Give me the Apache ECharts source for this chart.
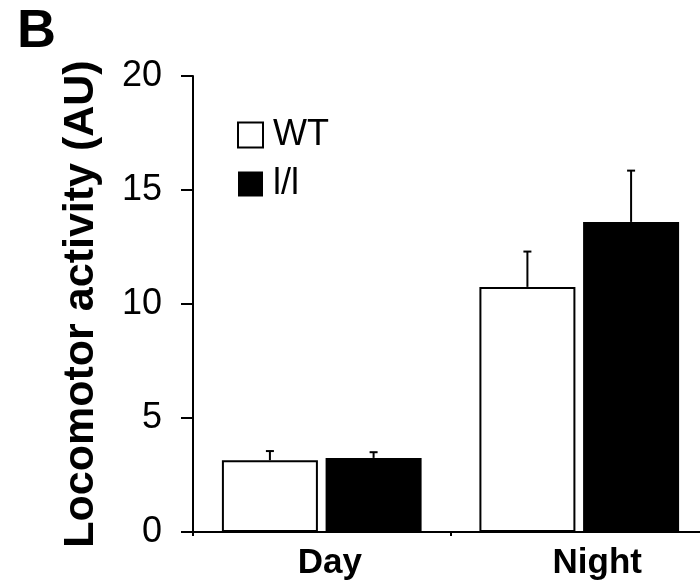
<!DOCTYPE html>
<html>
<head>
<meta charset="utf-8">
<script src="https://cdn.jsdelivr.net/npm/echarts@6/dist/echarts.min.js"></script>
<style>html,body{margin:0;padding:0;background:#fff;overflow:hidden;width:700px;height:584px;}#chart{width:708px;height:584px;}</style>
</head>
<body>
<div id="chart"></div>
<script>
const categories = ['Day', 'Night'];
const seriesNames = ['WT', 'l/l'];
const wtValues = [3.15, 10.75];
const wtErrors = [0.4, 1.55];
const llValues = [3.25, 13.6];
const llErrors = [0.25, 2.25];
const yTicks = [0, 5, 10, 15, 20];
const panelLabel = 'B';
const yAxisTitle = 'Locomotor activity (AU)';

const FONT = "'Liberation Sans', Arial, sans-serif";
const BAR_W = 96;
const GAP_FRAC = 0.08;
const half = (BAR_W + BAR_W * GAP_FRAC) / 2;

function errSeries(values, errors, offset) {
  return {
    type: 'custom',
    z: 5,
    data: values.map((v, i) => [i, v, errors[i]]),
    renderItem: function (params, api) {
      const base = api.coord([api.value(0), api.value(1)]);
      const top = api.coord([api.value(0), api.value(1) + api.value(2)]);
      const x = base[0] + offset;
      const style = { stroke: '#000', lineWidth: 2 };
      return {
        type: 'group',
        children: [
          { type: 'line', shape: { x1: x, y1: base[1], x2: x, y2: top[1] }, style: style },
          { type: 'line', shape: { x1: x - 4, y1: top[1], x2: x + 4, y2: top[1] }, style: style }
        ]
      };
    }
  };
}

const chart = echarts.init(document.getElementById('chart'));
chart.setOption({
  animation: false,
  backgroundColor: '#fff',
  title: {
    text: panelLabel, left: 12, top: 0,
    textStyle: { fontFamily: FONT, fontWeight: 'bold', fontSize: 54, color: '#000' }
  },
  legend: {
    data: seriesNames,
    orient: 'vertical', left: 232, top: 112, itemGap: 13,
    itemWidth: 25, itemHeight: 25, icon: 'rect',
    textStyle: { fontFamily: FONT, fontSize: 36, color: '#000', padding: [0, 0, 0, 5] }
  },
  grid: { left: 193, top: 76, right: 0, bottom: 52, containLabel: false },
  xAxis: {
    type: 'category',
    data: [
      { value: categories[0], textStyle: { padding: [0, 0, 0, 16] } },
      { value: categories[1], textStyle: { padding: [0, 0, 0, 36] } }
    ],
    axisLine: { lineStyle: { color: '#000', width: 2 } },
    axisTick: { show: true, length: 4, lineStyle: { color: '#000', width: 2 } },
    axisLabel: { fontFamily: FONT, fontWeight: 'bold', fontSize: 35, color: '#000', margin: 14 }
  },
  yAxis: {
    type: 'value', min: yTicks[0], max: yTicks[yTicks.length - 1], interval: 5,
    name: yAxisTitle, nameLocation: 'middle', nameRotate: 90, nameGap: 90,
    nameTextStyle: { fontFamily: FONT, fontWeight: 'bold', fontSize: 43, color: '#000' },
    axisLine: { show: true, lineStyle: { color: '#000', width: 2 } },
    axisTick: { show: true, length: 12, lineStyle: { color: '#000', width: 2 } },
    axisLabel: { fontFamily: FONT, fontSize: 36, color: '#000', margin: 31 },
    splitLine: { show: false }
  },
  series: [
    {
      name: seriesNames[0], type: 'bar', data: wtValues, barWidth: BAR_W, barGap: (GAP_FRAC * 100) + '%',
      itemStyle: { color: '#fff', borderColor: '#000', borderWidth: 2 }
    },
    {
      name: seriesNames[1], type: 'bar', data: llValues, barWidth: BAR_W,
      itemStyle: { color: '#000', borderColor: '#000', borderWidth: 0 }
    },
    errSeries(wtValues, wtErrors, -half),
    errSeries(llValues, llErrors, half)
  ]
});
</script>
</body>
</html>
